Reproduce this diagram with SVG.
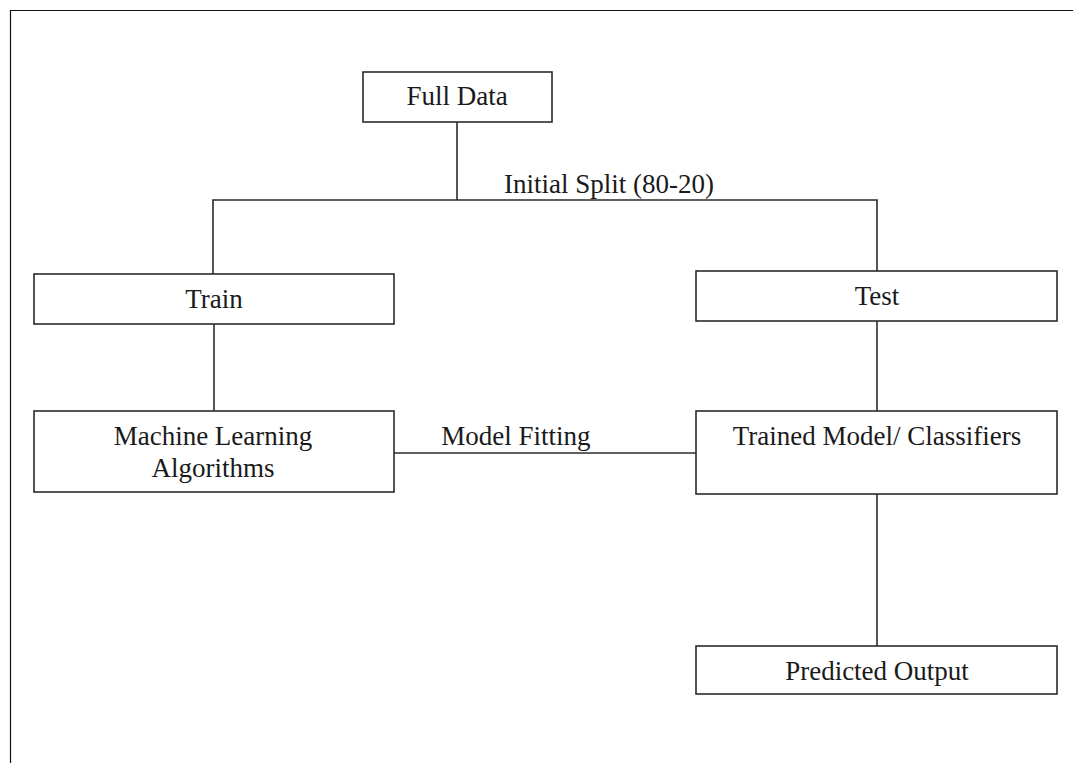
<svg xmlns="http://www.w3.org/2000/svg" width="1073" height="763" viewBox="0 0 1073 763">
  <style>
    .box { fill: #ffffff; stroke: #2b2b2b; stroke-width: 1.6; }
    .wire { fill: none; stroke: #2b2b2b; stroke-width: 1.6; }
    .lbl { font-family: "Liberation Serif", "Times New Roman", serif; font-size: 27px; fill: #1a1a1a; text-anchor: middle; }
    .frame { fill: none; stroke: #111111; stroke-width: 1.2; }
  </style>
  <rect width="1073" height="763" fill="#ffffff"/>
  <!-- page border, open to the right and bottom -->
  <path class="frame" d="M10.5 770 V10.5 H1080"/>

  <g id="connectors">
    <path class="wire" d="M457 122 V200"/>
    <path class="wire" d="M213 274 V200 H877 V271"/>
    <path class="wire" d="M214 324 V411"/>
    <path class="wire" d="M877 321 V411"/>
    <path class="wire" d="M394 453 H696"/>
    <path class="wire" d="M877 494 V646"/>
    <text class="lbl" x="609" y="193">Initial Split (80-20)</text>
    <text class="lbl" x="516" y="445">Model Fitting</text>
  </g>

  <g id="full-data">
    <rect class="box" x="363" y="72" width="189" height="50"/>
    <text class="lbl" x="457" y="105">Full Data</text>
  </g>
  <g id="train">
    <rect class="box" x="34" y="274" width="360" height="50"/>
    <text class="lbl" x="214" y="308">Train</text>
  </g>
  <g id="test">
    <rect class="box" x="696" y="271" width="361" height="50"/>
    <text class="lbl" x="877" y="305">Test</text>
  </g>
  <g id="ml-algorithms">
    <rect class="box" x="34" y="411" width="360" height="81"/>
    <text class="lbl" x="213" y="445">Machine Learning</text>
    <text class="lbl" x="213" y="477">Algorithms</text>
  </g>
  <g id="trained-model">
    <rect class="box" x="696" y="411" width="361" height="83"/>
    <text class="lbl" x="877" y="445">Trained Model/ Classifiers</text>
  </g>
  <g id="predicted-output">
    <rect class="box" x="696" y="646" width="361" height="48"/>
    <text class="lbl" x="877" y="680">Predicted Output</text>
  </g>
</svg>
